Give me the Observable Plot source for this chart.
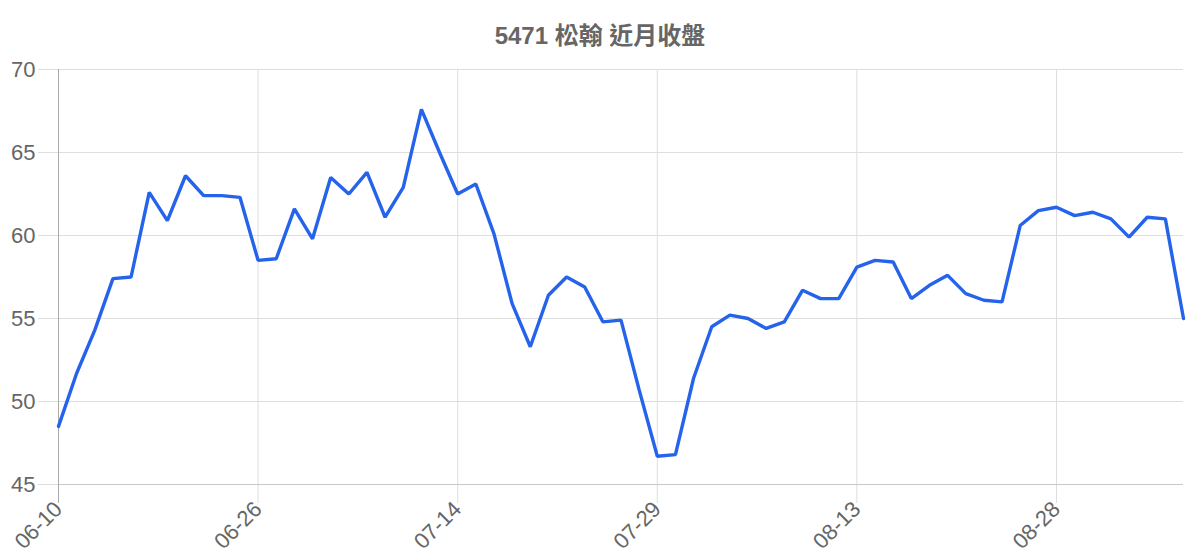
<!DOCTYPE html>
<html>
<head>
<meta charset="utf-8">
<script src="https://cdn.jsdelivr.net/npm/d3@7"></script>
<script src="https://cdn.jsdelivr.net/npm/@observablehq/plot@0.6"></script>
<style>
  body { margin: 0; background: #fff; }
  #title { height: 40px; padding-top: 16px; line-height: 40px; text-align: center;
    font: bold 24px "Liberation Sans", "Noto Sans CJK TC", sans-serif; color: #666; width: 1200px; }
</style>
</head>
<body>
<div id="title">5471 松翰 近月收盤</div>
<div id="chart"></div>
<script>
const tickLabels = ["06-10", "06-26", "07-14", "07-29", "08-13", "08-28"];
const tickIndex = [0, 11, 22, 33, 44, 55];
const yTicks = [45, 50, 55, 60, 65, 70];
const closes = [48.5, 51.7, 54.3, 57.4, 57.5, 62.6, 60.9, 63.6, 62.4, 62.4, 62.3, 58.5, 58.6, 61.6, 59.8, 63.5,
  62.5, 63.8, 61.1, 62.9, 67.6, 65.0, 62.5, 63.1, 60.1, 55.9, 53.3, 56.4, 57.5, 56.9, 54.8, 54.9, 50.7, 46.7,
  46.8, 51.4, 54.5, 55.2, 55.0, 54.4, 54.8, 56.7, 56.2, 56.2, 58.1, 58.5, 58.4, 56.2, 57.0, 57.6, 56.5, 56.1,
  56.0, 60.6, 61.5, 61.7, 61.2, 61.4, 61.0, 59.9, 61.1, 61.0, 55.0];

const data = closes.map((v, i) => ({ i, v }));

const chart = Plot.plot({
  width: 1200,
  height: 504,
  marginTop: 13,
  marginLeft: 58,
  marginRight: 17,
  marginBottom: 76,
  style: { fontFamily: "'Liberation Sans', 'Noto Sans CJK TC', sans-serif", fontSize: "22px", color: "#666", background: "#fff" },
  x: { domain: [0, closes.length - 1] },
  y: { domain: [45, 70] },
  marks: [
    Plot.gridX({ ticks: tickIndex, stroke: "#dedede", strokeOpacity: 1 }),
    Plot.gridY({ ticks: yTicks, stroke: "#dedede", strokeOpacity: 1 }),
    Plot.axisY({ ticks: yTicks, tickSize: 20, tickPadding: 3, stroke: "#dedede", strokeOpacity: 1, fill: "#666", label: null }),
    Plot.axisX({ ticks: tickIndex, tickFormat: d => tickLabels[tickIndex.indexOf(d)], tickRotate: -45,
      tickSize: 19, tickPadding: 2, stroke: "#dedede", strokeOpacity: 1, fill: "#666", label: null }),
    Plot.ruleY([45], { stroke: "#c8c8c8" }),
    Plot.ruleX([0], { stroke: "#aaa", insetBottom: -19 }),
    Plot.line(data, { x: "i", y: "v", stroke: "#2563eb", strokeWidth: 3.4, strokeLinejoin: "miter" })
  ]
});
document.getElementById("chart").appendChild(chart);
</script>
</body>
</html>
